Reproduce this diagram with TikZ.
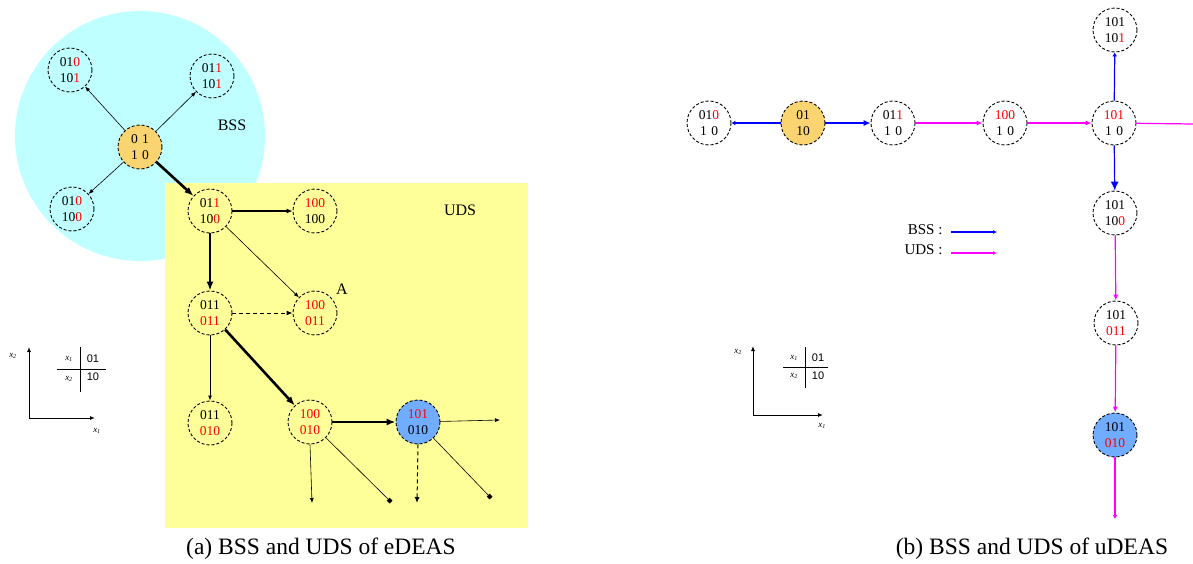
\documentclass[tikz,border=0pt]{standalone}
\usepackage{fontspec}
\setmainfont{Liberation Serif}
\newfontfamily\tabfont{Liberation Sans}
\usetikzlibrary{arrows.meta}

\definecolor{bssfill}{RGB}{191,255,255}
\definecolor{udsfill}{RGB}{255,255,153}
\definecolor{startfill}{RGB}{250,212,112}
\definecolor{bestfill}{RGB}{112,172,255}
\definecolor{bitred}{RGB}{255,0,0}
\definecolor{bssline}{RGB}{0,0,255}
\definecolor{udsline}{RGB}{255,0,255}
\newcommand{\rb}[1]{\textcolor{bitred}{#1}}

\tikzset{
  state/.style={circle, draw, densely dashed, line width=0.9pt, minimum size=44pt,
    inner sep=0pt, align=center, font=\fontsize{13.5}{16}\selectfont},
  thinarr/.style={-{Latex[length=5pt,width=4pt]}, line width=0.6pt},
  midarr/.style={-{Latex[length=6pt,width=5pt]}, line width=1.1pt},
  thickarr/.style={-{Latex[length=9pt,width=7pt]}, line width=2.6pt},
  sqarr/.style={-{Square[length=4pt,width=4pt]}, line width=0.6pt},
  dasharr/.style={-{Latex[length=6pt,width=5pt]}, line width=1pt, dash pattern=on 4pt off 3pt},
  bssarr/.style={-{Latex[length=7pt,width=6pt]}, line width=1.2pt, draw=bssline},
  udsarr/.style={-{Latex[length=6pt,width=5pt]}, line width=1.2pt, draw=udsline},
  lbl/.style={font=\fontsize{16}{18}\selectfont},
  captext/.style={font=\fontsize{23.5}{26}\selectfont},
  tab/.style={font=\tabfont\fontsize{11}{12}\selectfont, inner sep=0pt},
  var/.style={font=\fontsize{9}{10}\selectfont\itshape, inner sep=0pt},
}

\begin{document}
\begin{tikzpicture}[x=1pt,y=-1pt]
\useasboundingbox (0,0) rectangle (1193,563);

% ---------------- (a) eDEAS ----------------
\fill[bssfill] (140,136) circle[radius=125];
\fill[udsfill] (165,183) rectangle (528,528);

\node[lbl] (bsslbl) at (232,125) {BSS};
\node[lbl] (udslbl) at (460,210) {UDS};
\node[lbl] (albl) at (342,289) {A};

\node[state, fill=startfill] (s0) at (140,147) {0\,\,1\\1\,\,0};
\node[state] (a1) at (70,70) {01\rb{0}\\10\rb{1}};
\node[state] (a2) at (212,76) {01\rb{1}\\10\rb{1}};
\node[state] (a3) at (72,209) {01\rb{0}\\10\rb{0}};
\node[state] (b1) at (210,211) {01\rb{1}\\10\rb{0}};
\node[state] (b2) at (315,211) {\rb{100}\\100};
\node[state] (c1) at (210,313) {011\\\rb{011}};
\node[state] (c2) at (315,313) {\rb{100}\\\rb{011}};
\node[state] (d1) at (210,423) {011\\\rb{010}};
\node[state] (d2) at (310,422) {\rb{100}\\\rb{010}};
\node[state, fill=bestfill] (d3) at (418,422) {\rb{101}\\010};

\coordinate (e1) at (312,503);
\coordinate (e2) at (391,502);
\coordinate (e3) at (417,503);
\coordinate (e4) at (491,498);
\coordinate (e5) at (500,420);

\draw[thinarr] (s0) -- (a1);
\draw[thinarr] (s0) -- (a2);
\draw[thinarr] (s0) -- (a3);
\draw[thickarr] (s0) -- (b1);
\draw[midarr] (b1) -- (b2);
\draw[thickarr] (b1) -- (c1);
\draw[thinarr] (b1) -- (c2);
\draw[dasharr] (c1) -- (c2);
\draw[thinarr, line width=0.9pt] (c1) -- (d1);
\draw[thickarr] (c1) -- (d2);
\draw[thickarr] (d2) -- (d3);
\draw[thinarr] (d2.south) -- (e1);
\draw[sqarr] (d2) -- (e2);
\draw[thinarr] (d3) -- (e5);
\draw[dasharr] (d3.south) -- (e3);
\draw[sqarr] (d3) -- (e4);

% axes and bit table
\coordinate (ao) at (29,418);
\coordinate (ay) at (29,347);
\coordinate (ax) at (95,418);
\draw[thinarr, line width=1pt] (ao) -- (ay);
\draw[thinarr, line width=1pt] (ao) -- (ax);
\node[var] (x2a) at (13,356) {x\textsubscript{2}};
\node[var] (x1a) at (97,431) {x\textsubscript{1}};
\coordinate (tv1) at (80,347);
\coordinate (tv2) at (80,392);
\coordinate (th1) at (57,369);
\coordinate (th2) at (106,369);
\draw[line width=0.9pt] (tv1) -- (tv2);
\draw[line width=0.9pt] (th1) -- (th2);
\node[var] (tx1a) at (69,359) {x\textsubscript{1}};
\node[var] (tx2a) at (69,379) {x\textsubscript{2}};
\node[tab] (t01a) at (93,359) {01};
\node[tab] (t10a) at (93,377) {10};

\node[captext] (capa) at (321,549) {(a) BSS and UDS of eDEAS};

% ---------------- (b) uDEAS ----------------
\node[state, fill=startfill] (r0) at (803,123) {01\\10};
\node[state] (r1) at (709,123) {01\rb{0}\\1\,\,0};
\node[state] (r2) at (893,123) {01\rb{1}\\1\,\,0};
\node[state] (r3) at (1005,123) {\rb{100}\\1\,\,0};
\node[state] (r4) at (1114,123) {\rb{101}\\1\,\,0};
\node[state] (r5) at (1115,30) {101\\10\rb{1}};
\node[state] (r6) at (1115,213) {101\\10\rb{0}};
\node[state] (r7) at (1116,323) {101\\\rb{011}};
\node[state, fill=bestfill] (r8) at (1115,435) {101\\\rb{010}};

\coordinate (rend) at (1193,124);
\coordinate (rdown) at (1115,519);

\draw[bssarr, -{Latex[length=4pt,width=5pt]}] (r0) -- (r1);
\draw[bssarr] (r0) -- (r2);
\draw[udsarr] (r2) -- (r3);
\draw[udsarr] (r3) -- (r4);
\draw[udsline, line width=1.2pt] (r4) -- (rend);
\draw[bssarr, -{Latex[length=4pt,width=5pt]}] (r4) -- (r5);
\draw[bssarr, -{Latex[length=9pt,width=8pt]}] (r4) -- (r6);
\draw[udsarr] (r6) -- (r7);
\draw[udsarr] (r7) -- (r8);
\draw[udsarr, -{Latex[length=4pt,width=5pt]}] (r8) -- (rdown);

% legend
\node[lbl, anchor=east, font=\fontsize{15}{17}\selectfont] (legb) at (946,230) {BSS :};
\node[lbl, anchor=east, font=\fontsize{15}{17}\selectfont] (legu) at (946,250) {UDS :};
\coordinate (lb1) at (951,232);
\coordinate (lb2) at (997,232);
\coordinate (lu1) at (951,253);
\coordinate (lu2) at (997,253);
\draw[bssarr, -{Latex[length=4pt,width=4pt]}] (lb1) -- (lb2);
\draw[udsarr, -{Latex[length=4pt,width=4pt]}] (lu1) -- (lu2);

% axes and bit table
\coordinate (bo) at (753,415);
\coordinate (by) at (753,346);
\coordinate (bx) at (823,415);
\draw[thinarr, line width=1pt] (bo) -- (by);
\draw[thinarr, line width=1pt] (bo) -- (bx);
\node[var] (x2b) at (738,352) {x\textsubscript{2}};
\node[var] (x1b) at (822,426) {x\textsubscript{1}};
\coordinate (uv1) at (805,347);
\coordinate (uv2) at (805,388);
\coordinate (uh1) at (783,367);
\coordinate (uh2) at (828,367);
\draw[line width=0.9pt] (uv1) -- (uv2);
\draw[line width=0.9pt] (uh1) -- (uh2);
\node[var] (tx1b) at (794,358) {x\textsubscript{1}};
\node[var] (tx2b) at (794,376) {x\textsubscript{2}};
\node[tab] (t01b) at (818,358) {01};
\node[tab] (t10b) at (818,376) {10};

\node[captext] (capb) at (1032,549) {(b) BSS and UDS of uDEAS};
\end{tikzpicture}
\end{document}
